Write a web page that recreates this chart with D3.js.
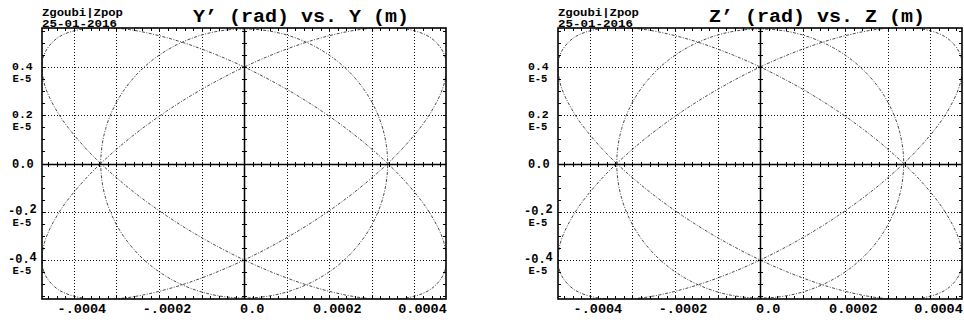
<!DOCTYPE html>
<html>
<head>
<meta charset="utf-8">
<script src="https://cdn.jsdelivr.net/npm/d3@7"></script>
<style>
  html, body { margin: 0; padding: 0; background: #fff; }
  svg { display: block; }
  text { font-family: "Liberation Mono", "DejaVu Sans Mono", monospace; font-weight: bold; fill: #000; }
</style>
</head>
<body>
<svg id="chart" width="964" height="322"></svg>
<script>
// Panel titles and header text
const panelTitles = ["Y\u2019 (rad) vs. Y (m)", "Z\u2019 (rad) vs. Z (m)"];
const headerLines = ["Zgoubi|Zpop", "25-01-2016"];

// Axis extents (position in m, angle in rad)
const xDomain = [-4.75e-4, 4.74e-4];
const yDomain = [-5.62e-6, 5.62e-6];

// Grid and labelled ticks
const xGridValues = [-4e-4, -3e-4, -2e-4, -1e-4, 1e-4, 2e-4, 3e-4, 4e-4];
const xLabelValues = [-4e-4, -2e-4, 0, 2e-4, 4e-4];
const xLabelTexts = ["-.0004", "-.0002", "0.0", "0.0002", "0.0004"];
const yGridValues = [-4e-6, -2e-6, 2e-6, 4e-6];
const yLabelValues = [4e-6, 2e-6, 0, -2e-6, -4e-6];
const yLabelTexts = ["0.4", "0.2", "0.0", "-0.2", "-0.4"];
const yLabelExponent = "E-5";
const xMinorStep = 2e-5;
const yMinorStep = 5e-7;

// Phase-space orbits: [position (m), angle (rad)]
const orbitTiltedA = [
  [4.387e-4, -5.207e-6], [4.710e-4, -4.469e-6], [4.712e-4, -3.426e-6], [4.393e-4, -2.150e-6],
  [3.774e-4, -0.727e-6], [2.898e-4, 0.745e-6], [1.826e-4, 2.167e-6], [0.628e-4, 3.441e-6],
  [-0.613e-4, 4.481e-6], [-1.811e-4, 5.214e-6], [-2.886e-4, 5.593e-6], [-3.765e-4, 5.590e-6],
  [-4.387e-4, 5.207e-6], [-4.710e-4, 4.469e-6], [-4.712e-4, 3.426e-6], [-4.393e-4, 2.150e-6],
  [-3.774e-4, 0.727e-6], [-2.898e-4, -0.745e-6], [-1.826e-4, -2.167e-6], [-0.628e-4, -3.441e-6],
  [0.613e-4, -4.481e-6], [1.811e-4, -5.214e-6], [2.886e-4, -5.593e-6], [3.765e-4, -5.590e-6]
];
const orbitTiltedB = [
  [-4.387e-4, -5.207e-6], [-4.710e-4, -4.469e-6], [-4.712e-4, -3.426e-6], [-4.393e-4, -2.150e-6],
  [-3.774e-4, -0.727e-6], [-2.898e-4, 0.745e-6], [-1.826e-4, 2.167e-6], [-0.628e-4, 3.441e-6],
  [0.613e-4, 4.481e-6], [1.811e-4, 5.214e-6], [2.886e-4, 5.593e-6], [3.765e-4, 5.590e-6],
  [4.387e-4, 5.207e-6], [4.710e-4, 4.469e-6], [4.712e-4, 3.426e-6], [4.393e-4, 2.150e-6],
  [3.774e-4, 0.727e-6], [2.898e-4, -0.745e-6], [1.826e-4, -2.167e-6], [0.628e-4, -3.441e-6],
  [-0.613e-4, -4.481e-6], [-1.811e-4, -5.214e-6], [-2.886e-4, -5.593e-6], [-3.765e-4, -5.590e-6]
];
const orbitUpright = [
  [3.370e-4, 0.000e-6], [3.255e-4, 1.444e-6], [2.918e-4, 2.790e-6], [2.383e-4, 3.946e-6],
  [1.685e-4, 4.832e-6], [0.872e-4, 5.390e-6], [0.000e-4, 5.580e-6], [-0.872e-4, 5.390e-6],
  [-1.685e-4, 4.832e-6], [-2.383e-4, 3.946e-6], [-2.918e-4, 2.790e-6], [-3.255e-4, 1.444e-6],
  [-3.370e-4, 0.000e-6], [-3.255e-4, -1.444e-6], [-2.918e-4, -2.790e-6], [-2.383e-4, -3.946e-6],
  [-1.685e-4, -4.832e-6], [-0.872e-4, -5.390e-6], [0.000e-4, -5.580e-6], [0.872e-4, -5.390e-6],
  [1.685e-4, -4.832e-6], [2.383e-4, -3.946e-6], [2.918e-4, -2.790e-6], [3.255e-4, -1.444e-6]
];
const orbits = [orbitTiltedA, orbitTiltedB, orbitUpright];

const svg = d3.select("#chart");
const frame = { left: 42, top: 28, width: 404, height: 271 };
const panelOffsets = [0, 516];

panelTitles.forEach((title, i) => {
  const g = svg.append("g").attr("transform", `translate(${panelOffsets[i]},0)`);
  const x = d3.scaleLinear().domain(xDomain).range([frame.left, frame.left + frame.width]);
  const y = d3.scaleLinear().domain(yDomain).range([frame.top + frame.height, frame.top]);
  const x0 = frame.left, x1 = frame.left + frame.width;
  const y0 = frame.top, y1 = frame.top + frame.height;

  // two-line header (one text element) and title
  const head = g.append("text").attr("font-size", 11);
  head.append("tspan").attr("x", 42).attr("y", 16)
    .attr("textLength", 81).attr("lengthAdjust", "spacingAndGlyphs").text(headerLines[0]);
  head.append("tspan").attr("x", 42).attr("y", 26.5)
    .attr("textLength", 75).attr("lengthAdjust", "spacingAndGlyphs").text(headerLines[1]);
  g.append("text").attr("x", 193).attr("y", 22).attr("font-size", 18.5)
    .attr("textLength", 216).attr("lengthAdjust", "spacingAndGlyphs").text(title);

  // dotted grid
  const grid = g.append("g").attr("stroke", "#111").attr("stroke-width", 1)
    .attr("stroke-dasharray", "1,2").attr("fill", "none");
  xGridValues.forEach(v => grid.append("line")
    .attr("x1", Math.round(x(v)) + 0.5).attr("x2", Math.round(x(v)) + 0.5).attr("y1", y0).attr("y2", y1));
  yGridValues.forEach(v => grid.append("line")
    .attr("y1", Math.round(y(v)) + 0.5).attr("y2", Math.round(y(v)) + 0.5).attr("x1", x0).attr("x2", x1));

  // orbits
  const clipId = "clip" + i;
  g.append("clipPath").attr("id", clipId).append("rect")
    .attr("x", x0).attr("y", y0).attr("width", frame.width).attr("height", frame.height);
  const line = d3.line().x(d => x(d[0])).y(d => y(d[1])).curve(d3.curveCatmullRomClosed.alpha(0.5));
  g.append("g").attr("clip-path", `url(#${clipId})`)
    .selectAll("path").data(orbits).join("path")
    .attr("d", line).attr("fill", "none").attr("stroke", "#4a4a4a")
    .attr("stroke-width", 1).attr("stroke-dasharray", "3,1.5,1,1.5");

  // central axes with cross ticks
  const axes = g.append("g").attr("stroke", "#000").attr("fill", "none");
  const xz = Math.round(x(0)) + 0.5, yz = Math.round(y(0)) + 0.5;
  axes.append("line").attr("x1", xz).attr("x2", xz).attr("y1", y0).attr("y2", y1).attr("stroke-width", 1.5);
  axes.append("line").attr("x1", x0).attr("x2", x1).attr("y1", yz).attr("y2", yz).attr("stroke-width", 1.5);

  const xMinor = d3.range(Math.ceil(xDomain[0] / xMinorStep), Math.floor(xDomain[1] / xMinorStep) + 1).map(k => k * xMinorStep);
  const yMinor = d3.range(Math.ceil(yDomain[0] / yMinorStep), Math.floor(yDomain[1] / yMinorStep) + 1).map(k => k * yMinorStep);

  xMinor.forEach(v => {
    const px = Math.round(x(v)) + 0.5;
    axes.append("line").attr("x1", px).attr("x2", px).attr("y1", yz - 2.5).attr("y2", yz + 2.5);
    axes.append("line").attr("x1", px).attr("x2", px).attr("y1", y1).attr("y2", y1 - 3);
    axes.append("line").attr("x1", px).attr("x2", px).attr("y1", y0).attr("y2", y0 + 3);
  });
  yMinor.forEach(v => {
    const py = Math.round(y(v)) + 0.5;
    axes.append("line").attr("y1", py).attr("y2", py).attr("x1", xz - 2.5).attr("x2", xz + 2.5);
    axes.append("line").attr("y1", py).attr("y2", py).attr("x1", x0).attr("x2", x0 + 3);
    axes.append("line").attr("y1", py).attr("y2", py).attr("x1", x1).attr("x2", x1 - 3);
  });

  // frame
  g.append("rect").attr("x", x0).attr("y", y0).attr("width", frame.width).attr("height", frame.height)
    .attr("fill", "none").attr("stroke", "#000").attr("stroke-width", 1.6);

  // x tick labels
  xLabelValues.forEach((v, k) => g.append("text")
    .attr("x", x(v) + 8).attr("y", 313).attr("font-size", 13.5).attr("text-anchor", "middle")
    .text(xLabelTexts[k]));

  // y tick labels: mantissa with the exponent on a second line
  yLabelValues.forEach((v, k) => {
    const t = yLabelTexts[k];
    const py = y(v);
    const neg = t.startsWith("-");
    const lbl = g.append("text").attr("font-size", neg || v === 0 ? 12 : 11.5);
    if (neg) {
      lbl.append("tspan").attr("x", 8).attr("y", py + 3).text(t.slice(0, -1));
      lbl.append("tspan").attr("dy", -2).text(t.slice(-1));
    } else {
      lbl.append("tspan").attr("x", 12).attr("y", py + (v === 0 ? 4 : 3)).text(t);
    }
    if (v !== 0) {
      g.append("text").attr("font-size", 10.5).attr("x", 12.5).attr("y", py + 14.5).text(yLabelExponent);
    }
  });
});
</script>
</body>
</html>
